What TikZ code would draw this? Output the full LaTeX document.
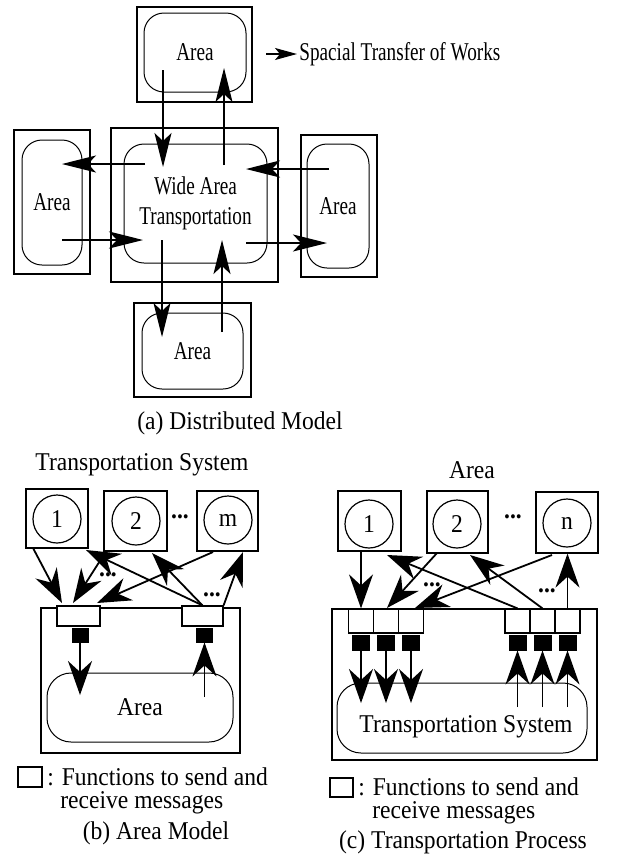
\documentclass[tikz,border=0pt]{standalone}
\usepackage{fontspec}
\setmainfont{Liberation Serif}
\newfontfamily\narrowserif{Liberation Serif}[FakeStretch=0.75]
\newfontfamily\wideserif{Liberation Serif}[FakeStretch=0.92]
\usetikzlibrary{arrows.meta}
\tikzset{
  outerbox/.style={draw, line width=0.6pt, inner sep=0pt},
  areabox/.style={draw, line width=0.5pt, rounded corners=10pt, inner sep=0pt, align=center},
  flowarrow/.style={line width=0.6pt, -{Stealth[length=17pt,width=8.5pt,inset=4pt]}},
  keyarrow/.style={line width=0.6pt, -{Stealth[length=11pt,width=6pt,inset=2.5pt]}},
  msg/.style={line width=0.9pt, -{Stealth[length=17pt,width=12pt,inset=5.5pt]}},
  port/.style={draw, fill=white, line width=0.6pt, inner sep=0pt},
  blk/.style={draw, fill=black, inner sep=0pt},
  proc/.style={draw, circle, line width=0.6pt, minimum size=24pt, inner sep=0pt},
}
\begin{document}
\begin{tikzpicture}[x=0.5pt,y=-0.5pt,font=\fontsize{12.8}{15}\narrowserif]
\useasboundingbox (0,0) rectangle (639,857);

% (a) distributed model
\node[outerbox, minimum width=57.5pt, minimum height=47.5pt] (topfr) at (194.5,54.5) {};
\node[areabox, minimum width=51pt, minimum height=39.5pt] (topar) at (195,52.5) {Area};
\node[outerbox, minimum width=83.5pt, minimum height=77pt] (widefr) at (194.5,205) {};
\node[areabox, minimum width=71.5pt, minimum height=59.5pt] (widear) at (195.5,203.5) {Wide Area\\Transportation};
\node[outerbox, minimum width=38pt, minimum height=72pt] (leftfr) at (52,202) {};
\node[areabox, minimum width=30pt, minimum height=62.5pt] (leftar) at (52,202.5) {Area};
\node[outerbox, minimum width=38pt, minimum height=71pt] (rightfr) at (339,206) {};
\node[areabox, minimum width=31pt, minimum height=62pt] (rightar) at (338,206) {Area};
\node[outerbox, minimum width=58.5pt, minimum height=47pt] (botfr) at (192.5,350) {};
\node[areabox, minimum width=50.5pt, minimum height=38pt] (botar) at (192.5,351) {Area};

\coordinate (tdA) at (163,70);  \coordinate (tdB) at (163,167);
\coordinate (tuA) at (224,165); \coordinate (tuB) at (224,68);
\coordinate (llA) at (145,164); \coordinate (llB) at (62,164);
\coordinate (lrA) at (62,240);  \coordinate (lrB) at (143,240);
\coordinate (rlA) at (329,169); \coordinate (rlB) at (246,169);
\coordinate (rrA) at (246,243); \coordinate (rrB) at (327,243);
\coordinate (bdA) at (162,240); \coordinate (bdB) at (162,337);
\coordinate (buA) at (222,332); \coordinate (buB) at (222,240);
\draw[flowarrow] (tdA) -- (tdB);
\draw[flowarrow] (tuA) -- (tuB);
\draw[flowarrow] (llA) -- (llB);
\draw[flowarrow] (lrA) -- (lrB);
\draw[flowarrow] (rlA) -- (rlB);
\draw[flowarrow] (rrA) -- (rrB);
\draw[flowarrow] (bdA) -- (bdB);
\draw[flowarrow] (buA) -- (buB);

\coordinate (keyA) at (266,54);
\node[anchor=west, inner sep=1pt] (keytxt) at (297,54) {Spacial Transfer of Works};
\draw[keyarrow] (keyA) -- (keytxt.west);
\node[font=\fontsize{12.8}{15}\wideserif] (capa) at (240,423) {(a) Distributed Model};

% (b) area model
\begin{scope}[font=\fontsize{12.8}{15}\wideserif]
\node (tstitle) at (142,465) {Transportation System};
\node[outerbox, minimum width=31pt, minimum height=29.5pt] (bs1) at (57,518.5) {};
\node[proc] (bc1) at (57,519) {1};
\node[outerbox, minimum width=31.5pt, minimum height=30pt] (bs2) at (135.5,521) {};
\node[proc] (bc2) at (136,521) {2};
\node (bdots) at (180,517) {\textbf{...}};
\node[outerbox, minimum width=30.5pt, minimum height=30pt] (bsm) at (227.5,521) {};
\node[proc] (bcm) at (228,520) {m};

\node[outerbox, minimum width=99.5pt, minimum height=72.5pt] (bfr) at (140.5,680.5) {};
\node[port, minimum width=21.5pt, minimum height=10pt] (bpl) at (78.5,616) {};
\node[port, minimum width=20.5pt, minimum height=10pt] (bpr) at (202.5,616) {};
\node[blk, minimum width=8pt, minimum height=7pt] (bkl) at (80,635) {};
\node[blk, minimum width=8pt, minimum height=7pt] (bkr) at (204.5,635) {};
\node[areabox, rounded corners=12pt, minimum width=93pt, minimum height=34.5pt] (bar) at (140,707.5) {Area};

\coordinate (bin) at (80,695);
\coordinate (bout) at (204.5,697);
\draw[msg] (bkl.south) -- (bin);
\draw[msg] (bout) -- (bkr.south);

\coordinate (b1s) at (33,548);  \coordinate (b1e) at (62,603);
\coordinate (b2s) at (105,553); \coordinate (b2e) at (73,603);
\coordinate (bms) at (213,552); \coordinate (bme) at (97,603);
\coordinate (r1e) at (86,550);  \coordinate (r2e) at (152,553);
\coordinate (rme) at (243,552);
\draw[msg] (b1s) -- (b1e);
\draw[msg] (b2s) -- (b2e);
\draw[msg] (bms) -- (bme);
\draw[msg] (bpr.north) -- (r1e);
\draw[msg] (bpr.north) -- (r2e);
\draw[msg] (bpr.north east) -- (rme);
\node (bdl) at (108,575) {\textbf{...}};
\node (bdr) at (212,595) {\textbf{...}};

\node[outerbox, minimum width=12pt, minimum height=10pt] (bkey) at (30,777) {};
\node[anchor=west, inner sep=1pt] (bkeytxt) at (45,777) {: Functions to send and};
\node[anchor=west, inner sep=1pt] (bkeytxt2) at (58,803) {receive messages};
\node (capb) at (156,833) {(b) Area Model};
\end{scope}

% (c) transportation process
\begin{scope}[font=\fontsize{12.8}{15}\wideserif]
\node (artitle) at (472,470) {Area};
\node[outerbox, minimum width=31.5pt, minimum height=30pt] (cs1) at (369.5,521) {};
\node[proc] (cc1) at (369,524) {1};
\node[outerbox, minimum width=30.5pt, minimum height=31pt] (cs2) at (457.5,522) {};
\node[proc] (cc2) at (457,524) {2};
\node (cdots) at (513,517) {\textbf{...}};
\node[outerbox, minimum width=31pt, minimum height=30.5pt] (csn) at (567,522.5) {};
\node[proc] (ccn) at (567,523) {n};

\node[outerbox, minimum width=132.5pt, minimum height=75.5pt] (cfr) at (464.5,684.5) {};
\node[areabox, rounded corners=12pt, minimum width=125pt, minimum height=35pt] (car) at (462,718) {};
\node (carlbl) at (466,727) {Transportation System};

\coordinate (cin) at (0,703);
\coordinate (cout) at (0,707);
\foreach \px/\nm in {361/l1,386/l2,411/l3,517.5/r1,542.5/r2,567.5/r3}{
  \node[port, minimum width=12.5pt, minimum height=12pt] (cpt\nm) at (\px,621) {};
  \node[blk, minimum width=8.5pt, minimum height=7.5pt] (cbk\nm) at (\px,642.5) {};
}
\foreach \nm in {l1,l2,l3}
  \draw[msg] (cbk\nm.south) -- (cbk\nm.south |- cin);
\foreach \nm in {r1,r2,r3}
  \draw[msg] (cbk\nm.south |- cout) -- (cbk\nm.south);

\coordinate (c2s) at (437,553); \coordinate (c2e) at (387,608);
\coordinate (cns) at (552,555); \coordinate (cne) at (415,608);
\coordinate (q1e) at (387,555); \coordinate (q2e) at (470,555);
\draw[msg] (cs1.south -| cptl1) -- (cptl1.north);
\draw[msg] (c2s) -- (c2e);
\draw[msg] (cns) -- (cne);
\draw[msg] (cptr1.north) -- (q1e);
\draw[msg] (cptr2.north) -- (q2e);
\draw[msg] (cptr3.north) -- (cptr3.north |- csn.south);
\node (cdl) at (432,585) {\textbf{...}};
\node (cdr) at (547,591) {\textbf{...}};

\node[outerbox, minimum width=11.5pt, minimum height=9.5pt] (ckey) at (341.5,787.5) {};
\node[anchor=west, inner sep=1pt] (ckeytxt) at (356,787) {: Functions to send and};
\node[anchor=west, inner sep=1pt] (ckeytxt2) at (370,813) {receive messages};
\node (capc) at (463,842) {(c) Transportation Process};
\end{scope}
\end{tikzpicture}
\end{document}
